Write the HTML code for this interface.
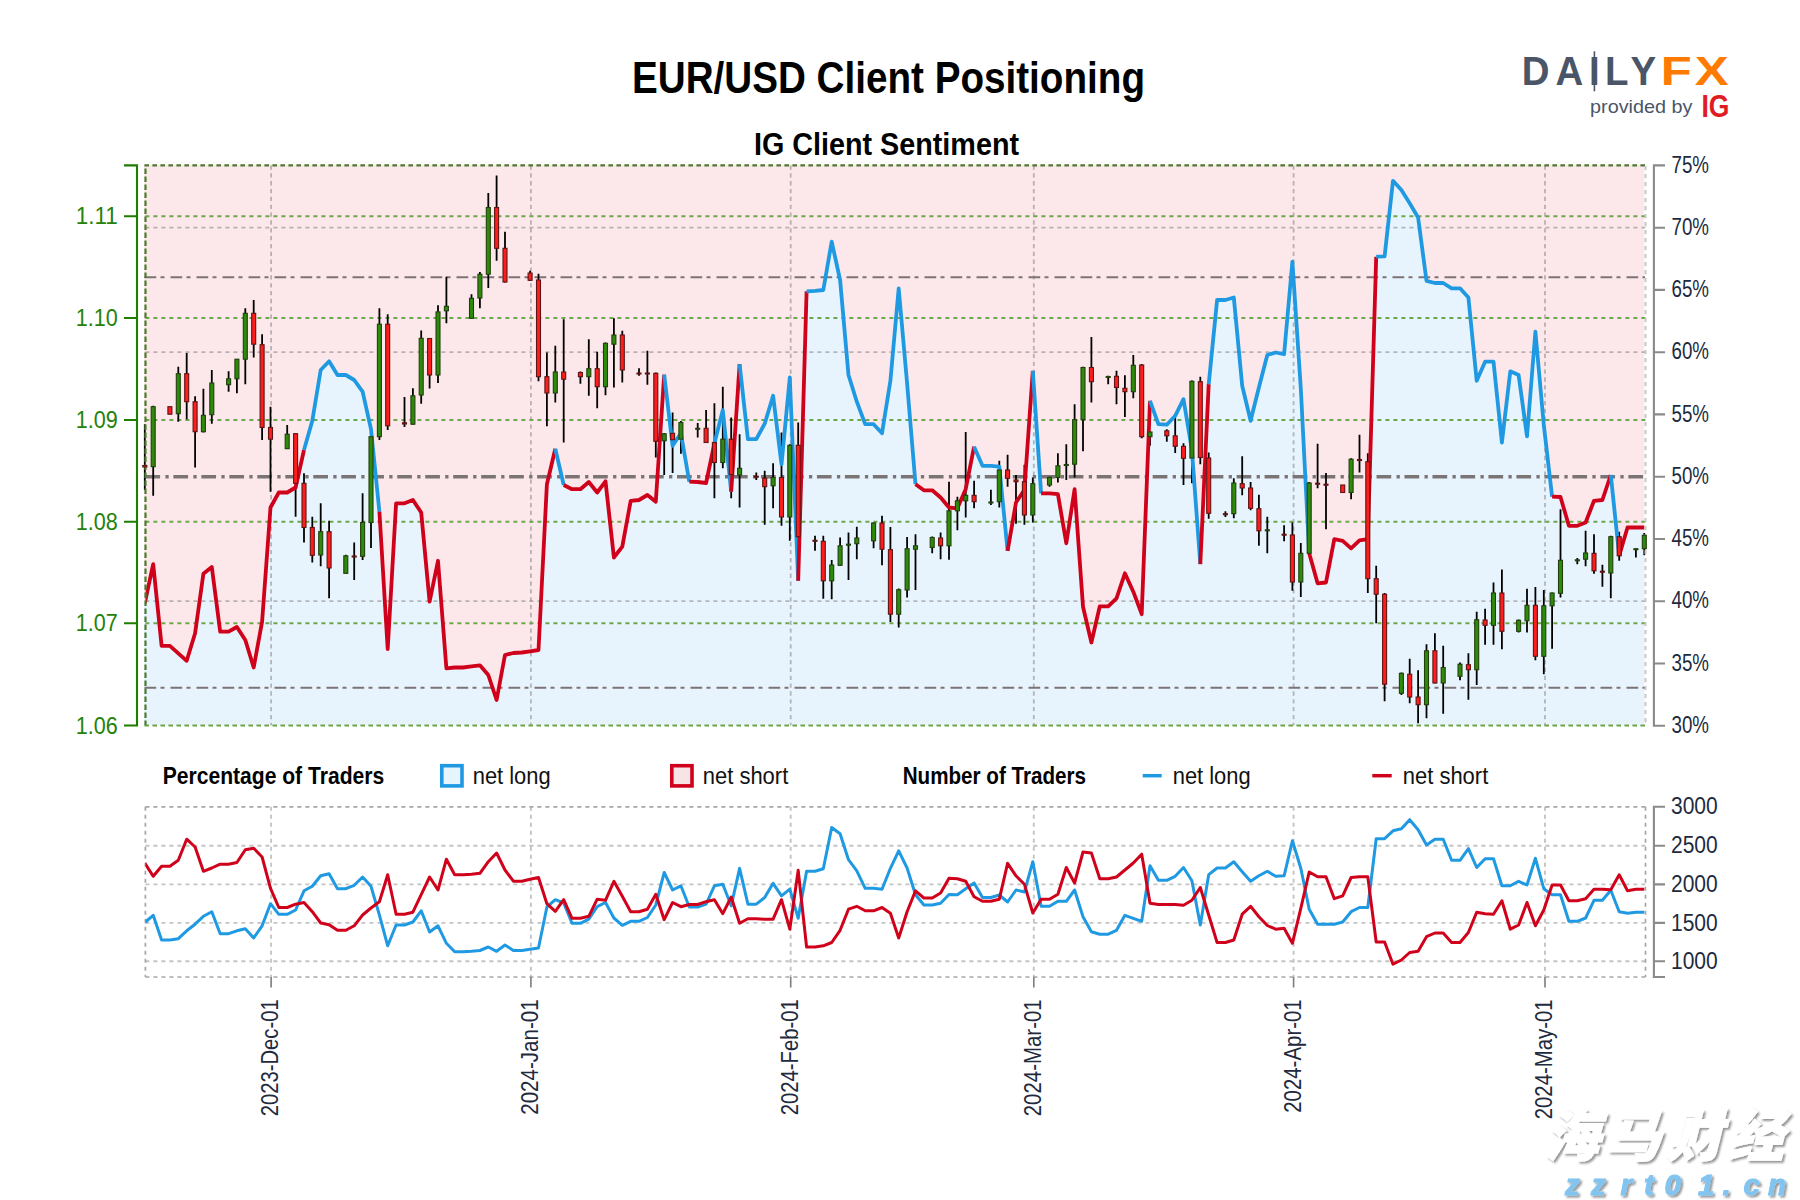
<!DOCTYPE html><html><head><meta charset="utf-8"><title>EUR/USD Client Positioning</title>
<style>html,body{margin:0;padding:0;background:#fff;width:1800px;height:1200px;overflow:hidden;}svg{display:block;}text{font-family:"Liberation Sans","Noto Sans CJK SC",sans-serif;}.ax{font-size:23px;fill:#1e2a3e;}.gx{font-size:23px;fill:#258208;}.lg{font-size:23px;fill:#111;}.lgb{font-size:23px;font-weight:bold;fill:#000;}</style></head><body>
<svg width="1800" height="1200" viewBox="0 0 1800 1200">
<rect width="1800" height="1200" fill="#fff"/>
<defs><clipPath id="cp"><rect x="145.4" y="165.4" width="1500.1" height="560.1"/></clipPath></defs>
<rect x="144" y="164.3" width="1500.2" height="560.1" fill="#fce8ea"/>
<polygon fill="#e8f4fd" points="144,724.4 144,603.3 144.8,603.3 153.2,564.2 161.6,645.8 169.9,645.8 178.3,653.3 186.7,660.8 195.1,633.3 203.4,573.7 211.8,567 220.2,631.7 228.6,631.7 236.9,627 245.3,640 253.7,667.5 262.1,621.7 270.5,507.5 278.8,492.5 287.2,492.5 295.6,487.5 304,450 312.3,420.8 320.7,370 329.1,361.3 337.5,375 345.8,375 354.2,380 362.6,391.7 371,429.2 379.4,511.7 387.7,649.2 396.1,503.3 404.5,503.3 412.9,500 421.2,512.5 429.6,601.7 438,560.8 446.4,668.3 454.7,667.5 463.1,667.5 471.5,666.3 479.9,665.3 488.3,675 496.6,700 505,655 513.4,653 521.8,652.5 530.1,651.3 538.5,650 546.9,484.2 555.3,448.7 563.7,485 572,489.2 580.4,489.2 588.8,482 597.2,492.5 605.5,481.3 613.9,557.5 622.3,546.7 630.7,500.8 639,500 647.4,495 655.8,501.7 664.2,374.7 672.6,445.8 680.9,433.3 689.3,481.7 697.7,482 706.1,483 714.4,443.3 722.8,410.3 731.2,491.7 739.6,364.2 747.9,439.2 756.3,439.2 764.7,423.7 773.1,395.8 781.5,464.2 789.8,377.5 798.2,580.8 806.6,291.3 815,290.8 823.3,290 831.7,241.7 840.1,280 848.5,375 856.8,401.7 865.2,424.2 873.6,424.2 882,433.3 890.4,380.8 898.7,288.3 907.1,383.3 915.5,484.2 923.9,490.3 932.2,490.3 940.6,497.5 949,507.5 957.4,508.3 965.7,489.2 974.1,446.7 982.5,465.8 990.9,465.8 999.3,466.7 1007.6,550.8 1016,502.5 1024.4,490 1032.8,370.8 1041.1,493.3 1049.5,493.3 1057.9,494.2 1066.3,543.3 1074.6,489.2 1083,606.7 1091.4,642.5 1099.8,606.3 1108.2,606.3 1116.5,598.3 1124.9,573.3 1133.3,591.7 1141.7,614.2 1150,400.8 1158.4,424.2 1166.8,424.7 1175.2,415.8 1183.5,399.2 1191.9,450 1200.3,564.2 1208.7,384.2 1217.1,300 1225.4,300 1233.8,297.5 1242.2,385.8 1250.6,420.8 1258.9,387.5 1267.3,355 1275.7,352.5 1284.1,354.2 1292.4,261.7 1300.8,388.3 1309.2,553.3 1317.6,583.3 1326,582.5 1334.3,539.2 1342.7,540.8 1351.1,548.3 1359.5,540.3 1367.8,539.2 1376.2,256.7 1384.6,256.3 1393,180.8 1401.4,190 1409.7,203.3 1418.1,217.5 1426.5,280.8 1434.9,283 1443.2,283 1451.6,288.3 1460,288.3 1468.4,297.5 1476.7,380.8 1485.1,361.7 1493.5,361.7 1501.9,442.5 1510.3,371.3 1518.6,375 1527,436.3 1535.4,331.7 1543.8,425 1552.1,496.7 1560.5,497 1568.9,525.8 1577.3,525.8 1585.6,522.5 1594,500.8 1602.4,500 1610.8,475 1619.2,555.8 1627.5,527.5 1635.9,527.5 1644.3,527.5 1644.2,527.5 1644.2,724.4"/>
<path d="M145.4 227.7H1645.5M145.4 352.2H1645.5M145.4 601.2H1645.5" stroke="#7c7c7c" stroke-opacity="0.52" stroke-width="1.7" stroke-dasharray="4,4" fill="none"/>
<path d="M271.1 165.4V725.5M530.9 165.4V725.5M790.7 165.4V725.5M1033.8 165.4V725.5M1293.6 165.4V725.5M1545 165.4V725.5" stroke="#7c7c7c" stroke-opacity="0.52" stroke-width="1.8" stroke-dasharray="4.3,3.55" fill="none"/>
<path d="M145.4 216.2H1645.5M145.4 318H1645.5M145.4 420H1645.5M145.4 521.7H1645.5M145.4 623.3H1645.5" stroke="#6ca74c" stroke-width="1.9" stroke-dasharray="4,4" fill="none"/>
<path d="M144.5 277.3H1645 M144.5 687.8H1645" stroke="#7d7376" stroke-width="2" stroke-dasharray="11.7,4.3,4,6" fill="none"/>
<path d="M145.4 476.7H1645" stroke="#7a7475" stroke-width="3.6" stroke-dasharray="14.7,5.3,3.3,4.68" fill="none"/>
<path d="M144.8 424.2V490M153.2 405.8V495.8M169.9 406.7V414.2M178.3 366.7V421.7M186.7 353V419.2M195.1 396.3V467.5M203.4 388.7V432.5M211.8 370V423.7M228.6 371.3V391.7M236.9 359.2V393.3M245.3 308.3V384.2M253.7 300V357.5M262.1 334.2V440M270.5 406.7V491.7M287.2 425V449M295.6 433V516.7M304 473.3V542.5M312.3 516.7V562.5M320.7 503.3V566.3M329.1 520.8V598.3M345.8 554.7V573.7M354.2 542.5V580M362.6 493.3V560M371 436V548M379.4 308.3V440M387.7 314.2V430M404.5 397V427M412.9 388.3V424.7M421.2 330.5V403.7M429.6 338V388.5M438 305.3V383M446.4 276.7V323.3M471.5 294.2V318.5M479.9 272V308.3M488.3 193V288M496.6 175.5V260.8M505 231.7V282.5M530.1 270.8V281M538.5 273.7V381.3M546.9 352.5V426.3M555.3 345.8V402.5M563.7 319.2V442.5M580.4 371.5V383.7M588.8 339.2V395.8M597.2 351.7V408.3M605.5 342.5V395.3M613.9 318.3V387.5M622.3 330.8V382.5M639 368.3V375.8M647.4 350.8V384.7M655.8 372.5V457.5M664.2 433V475M672.6 412.5V473M680.9 421V453.7M697.7 423V437.5M706.1 410V443M714.4 403.3V498.3M722.8 386.7V468.3M731.2 417.5V498.3M739.6 434.2V507.5M756.3 472.5V480M764.7 470.8V524.7M773.1 463.3V508.3M781.5 432.5V525.8M789.8 444.2V540.8M798.2 422.5V537M815 535.8V550.8M823.3 535.8V598.7M831.7 560V599.2M840.1 537.5V566M848.5 532.5V580M856.8 526.7V559.2M873.6 522.5V548.3M882 515.8V565.3M890.4 527V622M898.7 588.5V627.5M907.1 537V597.5M915.5 534.2V590M932.2 536.5V553.3M940.6 532.5V559.2M949 481.7V559.7M957.4 496.7V530.3M965.7 432V517.5M974.1 480.8V508.3M990.9 489.7V505M999.3 460.8V507.5M1007.6 454.7V486.7M1016 475V523.7M1024.4 464.7V524.7M1032.8 477.5V522.5M1049.5 476.7V486.7M1057.9 453.3V482.5M1066.3 444.2V480M1074.6 404.2V477.5M1083 366.7V451.3M1091.4 337V402.5M1108.2 375.8V384.2M1116.5 370.8V404.2M1124.9 375.3V417M1133.3 355V398.3M1141.7 364V438.3M1150 431.7V445.8M1166.8 429.2V441.7M1175.2 414.2V453M1183.5 443.3V485M1191.9 380.5V483.3M1200.3 376.7V464.2M1208.7 452.5V518.7M1225.4 511.3V517M1233.8 478.3V518.3M1242.2 456.3V495.3M1250.6 482V510.3M1258.9 494.7V545.8M1267.3 516.7V553.3M1284.1 525.3V541.3M1292.4 522.5V590.8M1300.8 543V597M1309.2 482V554M1317.6 443.7V488.3M1326 473V529.2M1342.7 485V492.5M1351.1 458.3V499.2M1359.5 434.7V472.5M1367.8 453.3V593M1376.2 565.8V623.3M1384.6 593V701.3M1401.4 672.5V695M1409.7 658.7V703.3M1418.1 670.3V723.3M1426.5 644.2V718.3M1434.9 633.3V683.5M1443.2 645.8V713.7M1460 662.5V680.3M1468.4 653.3V699.7M1476.7 611.7V685M1485.1 608.7V644.7M1493.5 582.5V644.7M1501.9 569.5V649.2M1518.6 619.5V632.5M1527 588.7V632.5M1535.4 587V660.3M1543.8 590V674.2M1552.1 592.5V648.7M1560.5 509.2V597.5M1577.3 558V564.2M1585.6 530.8V566.3M1594 534.2V573.7M1602.4 564.7V586.7M1610.8 535.8V598.3M1619.2 531.7V560.8M1635.9 548.7V557.5M1644.3 533V555.3" stroke="#000" stroke-width="1.8" fill="none"/>
<polyline clip-path="url(#cp)" fill="none" stroke="#d0021b" stroke-width="3.8" stroke-linejoin="round" points="144.8,603.3 153.2,564.2 161.6,645.8 169.9,645.8 178.3,653.3 186.7,660.8 195.1,633.3 203.4,573.7 211.8,567 220.2,631.7 228.6,631.7 236.9,627 245.3,640 253.7,667.5 262.1,621.7 270.5,507.5 278.8,492.5 287.2,492.5 295.6,487.5 304,450"/>
<polyline clip-path="url(#cp)" fill="none" stroke="#1f9ae2" stroke-width="3.8" stroke-linejoin="round" points="304,450 312.3,420.8 320.7,370 329.1,361.3 337.5,375 345.8,375 354.2,380 362.6,391.7 371,429.2 379.4,511.7"/>
<polyline clip-path="url(#cp)" fill="none" stroke="#d0021b" stroke-width="3.8" stroke-linejoin="round" points="379.4,511.7 387.7,649.2 396.1,503.3 404.5,503.3 412.9,500 421.2,512.5 429.6,601.7 438,560.8 446.4,668.3 454.7,667.5 463.1,667.5 471.5,666.3 479.9,665.3 488.3,675 496.6,700 505,655 513.4,653 521.8,652.5 530.1,651.3 538.5,650 546.9,484.2 555.3,448.7"/>
<polyline clip-path="url(#cp)" fill="none" stroke="#1f9ae2" stroke-width="3.8" stroke-linejoin="round" points="555.3,448.7 563.7,485"/>
<polyline clip-path="url(#cp)" fill="none" stroke="#d0021b" stroke-width="3.8" stroke-linejoin="round" points="563.7,485 572,489.2 580.4,489.2 588.8,482 597.2,492.5 605.5,481.3 613.9,557.5 622.3,546.7 630.7,500.8 639,500 647.4,495 655.8,501.7 664.2,374.7"/>
<polyline clip-path="url(#cp)" fill="none" stroke="#1f9ae2" stroke-width="3.8" stroke-linejoin="round" points="664.2,374.7 672.6,445.8 680.9,433.3 689.3,481.7"/>
<polyline clip-path="url(#cp)" fill="none" stroke="#d0021b" stroke-width="3.8" stroke-linejoin="round" points="689.3,481.7 697.7,482 706.1,483 714.4,443.3"/>
<polyline clip-path="url(#cp)" fill="none" stroke="#1f9ae2" stroke-width="3.8" stroke-linejoin="round" points="714.4,443.3 722.8,410.3 731.2,491.7"/>
<polyline clip-path="url(#cp)" fill="none" stroke="#d0021b" stroke-width="3.8" stroke-linejoin="round" points="731.2,491.7 739.6,364.2"/>
<polyline clip-path="url(#cp)" fill="none" stroke="#1f9ae2" stroke-width="3.8" stroke-linejoin="round" points="739.6,364.2 747.9,439.2 756.3,439.2 764.7,423.7 773.1,395.8 781.5,464.2 789.8,377.5 798.2,580.8"/>
<polyline clip-path="url(#cp)" fill="none" stroke="#d0021b" stroke-width="3.8" stroke-linejoin="round" points="798.2,580.8 806.6,291.3"/>
<polyline clip-path="url(#cp)" fill="none" stroke="#1f9ae2" stroke-width="3.8" stroke-linejoin="round" points="806.6,291.3 815,290.8 823.3,290 831.7,241.7 840.1,280 848.5,375 856.8,401.7 865.2,424.2 873.6,424.2 882,433.3 890.4,380.8 898.7,288.3 907.1,383.3 915.5,484.2"/>
<polyline clip-path="url(#cp)" fill="none" stroke="#d0021b" stroke-width="3.8" stroke-linejoin="round" points="915.5,484.2 923.9,490.3 932.2,490.3 940.6,497.5 949,507.5 957.4,508.3 965.7,489.2 974.1,446.7"/>
<polyline clip-path="url(#cp)" fill="none" stroke="#1f9ae2" stroke-width="3.8" stroke-linejoin="round" points="974.1,446.7 982.5,465.8 990.9,465.8 999.3,466.7 1007.6,550.8"/>
<polyline clip-path="url(#cp)" fill="none" stroke="#d0021b" stroke-width="3.8" stroke-linejoin="round" points="1007.6,550.8 1016,502.5 1024.4,490 1032.8,370.8"/>
<polyline clip-path="url(#cp)" fill="none" stroke="#1f9ae2" stroke-width="3.8" stroke-linejoin="round" points="1032.8,370.8 1041.1,493.3"/>
<polyline clip-path="url(#cp)" fill="none" stroke="#d0021b" stroke-width="3.8" stroke-linejoin="round" points="1041.1,493.3 1049.5,493.3 1057.9,494.2 1066.3,543.3 1074.6,489.2 1083,606.7 1091.4,642.5 1099.8,606.3 1108.2,606.3 1116.5,598.3 1124.9,573.3 1133.3,591.7 1141.7,614.2 1150,400.8"/>
<polyline clip-path="url(#cp)" fill="none" stroke="#1f9ae2" stroke-width="3.8" stroke-linejoin="round" points="1150,400.8 1158.4,424.2 1166.8,424.7 1175.2,415.8 1183.5,399.2 1191.9,450 1200.3,564.2"/>
<polyline clip-path="url(#cp)" fill="none" stroke="#d0021b" stroke-width="3.8" stroke-linejoin="round" points="1200.3,564.2 1208.7,384.2"/>
<polyline clip-path="url(#cp)" fill="none" stroke="#1f9ae2" stroke-width="3.8" stroke-linejoin="round" points="1208.7,384.2 1217.1,300 1225.4,300 1233.8,297.5 1242.2,385.8 1250.6,420.8 1258.9,387.5 1267.3,355 1275.7,352.5 1284.1,354.2 1292.4,261.7 1300.8,388.3 1309.2,553.3"/>
<polyline clip-path="url(#cp)" fill="none" stroke="#d0021b" stroke-width="3.8" stroke-linejoin="round" points="1309.2,553.3 1317.6,583.3 1326,582.5 1334.3,539.2 1342.7,540.8 1351.1,548.3 1359.5,540.3 1367.8,539.2 1376.2,256.7"/>
<polyline clip-path="url(#cp)" fill="none" stroke="#1f9ae2" stroke-width="3.8" stroke-linejoin="round" points="1376.2,256.7 1384.6,256.3 1393,180.8 1401.4,190 1409.7,203.3 1418.1,217.5 1426.5,280.8 1434.9,283 1443.2,283 1451.6,288.3 1460,288.3 1468.4,297.5 1476.7,380.8 1485.1,361.7 1493.5,361.7 1501.9,442.5 1510.3,371.3 1518.6,375 1527,436.3 1535.4,331.7 1543.8,425 1552.1,496.7"/>
<polyline clip-path="url(#cp)" fill="none" stroke="#d0021b" stroke-width="3.8" stroke-linejoin="round" points="1552.1,496.7 1560.5,497 1568.9,525.8 1577.3,525.8 1585.6,522.5 1594,500.8 1602.4,500 1610.8,475"/>
<polyline clip-path="url(#cp)" fill="none" stroke="#1f9ae2" stroke-width="3.8" stroke-linejoin="round" points="1610.8,475 1619.2,555.8"/>
<polyline clip-path="url(#cp)" fill="none" stroke="#d0021b" stroke-width="3.8" stroke-linejoin="round" points="1619.2,555.8 1627.5,527.5 1635.9,527.5 1644.3,527.5"/>
<path d="M144.4 165.4H1645.5" stroke="#4d7a33" stroke-width="2.3" stroke-dasharray="4.6,3.4" fill="none"/>
<path d="M144.4 725.5H1645.5" stroke="#66a648" stroke-width="2.1" stroke-dasharray="4.6,3.4" fill="none"/>
<path d="M145.5 168.6V725" stroke="#4d7a33" stroke-width="2.2" stroke-dasharray="5.4,2.6" fill="none"/>
<path d="M1645.5 166V725" stroke="#c6c6c6" stroke-width="2" stroke-dasharray="4.3,3.7" fill="none"/>
<g fill="#2e8a0a" stroke="#22400e" stroke-width="1.1"><rect x="151.2" y="406.7" width="4" height="60"/><rect x="176.3" y="373.7" width="4" height="40"/><rect x="201.4" y="415.3" width="4" height="16.4"/><rect x="209.8" y="383" width="4" height="31.7"/><rect x="226.6" y="378.8" width="4" height="5.9"/><rect x="234.9" y="359.2" width="4" height="19.6"/><rect x="243.3" y="313.3" width="4" height="45.9"/><rect x="285.2" y="434.2" width="4" height="14.5"/><rect x="318.7" y="531.7" width="4" height="23.3"/><rect x="343.8" y="555.8" width="4" height="17.5"/><rect x="360.6" y="522.5" width="4" height="33.8"/><rect x="369" y="436.7" width="4" height="85.8"/><rect x="377.4" y="324.2" width="4" height="112.5"/><rect x="410.9" y="395.8" width="4" height="28.4"/><rect x="419.2" y="338.3" width="4" height="56.7"/><rect x="436" y="311.9" width="4" height="63.1"/><rect x="444.4" y="306.3" width="4" height="4.5"/><rect x="469.5" y="298.3" width="4" height="20"/><rect x="477.9" y="274.2" width="4" height="23.8"/><rect x="486.3" y="207.5" width="4" height="66.7"/><rect x="553.3" y="372" width="4" height="21"/><rect x="586.8" y="368.7" width="4" height="8"/><rect x="603.5" y="343.3" width="4" height="43.4"/><rect x="611.9" y="335" width="4" height="9.2"/><rect x="662.2" y="433.8" width="4" height="7"/><rect x="678.9" y="422.5" width="4" height="16.7"/><rect x="695.7" y="428.3" width="4" height="1"/><rect x="720.8" y="439.2" width="4" height="23.3"/><rect x="737.6" y="468.3" width="4" height="6.7"/><rect x="771.1" y="477.5" width="4" height="8.3"/><rect x="787.8" y="445.3" width="4" height="71.7"/><rect x="829.7" y="565" width="4" height="15.8"/><rect x="838.1" y="545.8" width="4" height="19.5"/><rect x="846.5" y="544.2" width="4" height="1"/><rect x="854.8" y="538" width="4" height="5.7"/><rect x="871.6" y="523" width="4" height="17.8"/><rect x="896.7" y="589.7" width="4" height="24.5"/><rect x="905.1" y="548.7" width="4" height="41.3"/><rect x="913.5" y="545.8" width="4" height="3.4"/><rect x="930.2" y="537.5" width="4" height="10"/><rect x="947" y="510.8" width="4" height="35"/><rect x="955.4" y="500.8" width="4" height="10"/><rect x="963.7" y="495.3" width="4" height="5.5"/><rect x="988.9" y="502" width="4" height="1"/><rect x="997.3" y="470" width="4" height="31.7"/><rect x="1030.8" y="483.7" width="4" height="31.3"/><rect x="1047.5" y="477.5" width="4" height="7.5"/><rect x="1055.9" y="465.8" width="4" height="11.7"/><rect x="1064.3" y="464.5" width="4" height="1"/><rect x="1072.6" y="419.7" width="4" height="44.5"/><rect x="1081" y="367.5" width="4" height="52.2"/><rect x="1106.2" y="376.5" width="4" height="1"/><rect x="1131.3" y="365.3" width="4" height="26.4"/><rect x="1148" y="432" width="4" height="4.7"/><rect x="1189.9" y="381.3" width="4" height="76.7"/><rect x="1231.8" y="483" width="4" height="30.7"/><rect x="1265.3" y="529.8" width="4" height="1"/><rect x="1298.8" y="553.3" width="4" height="28.7"/><rect x="1307.2" y="483" width="4" height="70.3"/><rect x="1349.1" y="459.2" width="4" height="33.3"/><rect x="1399.4" y="673.3" width="4" height="20"/><rect x="1424.5" y="650.8" width="4" height="53.9"/><rect x="1441.2" y="667.5" width="4" height="15.5"/><rect x="1458" y="664.2" width="4" height="12.1"/><rect x="1474.7" y="619.7" width="4" height="50"/><rect x="1491.5" y="593" width="4" height="32.3"/><rect x="1516.6" y="620.3" width="4" height="11"/><rect x="1525" y="605.3" width="4" height="15.5"/><rect x="1541.8" y="605.8" width="4" height="50.5"/><rect x="1550.1" y="593" width="4" height="12.8"/><rect x="1558.5" y="560.3" width="4" height="33"/><rect x="1575.3" y="559.8" width="4" height="1"/><rect x="1583.6" y="553" width="4" height="6.2"/><rect x="1608.8" y="536.7" width="4" height="36.3"/><rect x="1633.9" y="548.7" width="4" height="1"/><rect x="1642.3" y="535.3" width="4" height="13.4"/></g>
<g fill="#ff1c1c" stroke="#5e1414" stroke-width="1.1"><rect x="142.8" y="465.5" width="4" height="1.5"/><rect x="167.9" y="406.7" width="4" height="7.5"/><rect x="184.7" y="373.7" width="4" height="28"/><rect x="193.1" y="401.7" width="4" height="30"/><rect x="251.7" y="313.3" width="4" height="30.9"/><rect x="260.1" y="344.7" width="4" height="82.8"/><rect x="268.5" y="427.5" width="4" height="11.7"/><rect x="293.6" y="433.7" width="4" height="49.6"/><rect x="302" y="483.3" width="4" height="44.2"/><rect x="310.3" y="527.5" width="4" height="27.8"/><rect x="327.1" y="531.7" width="4" height="36.3"/><rect x="352.2" y="556" width="4" height="1"/><rect x="385.7" y="324.2" width="4" height="101.6"/><rect x="402.5" y="422.8" width="4" height="1.2"/><rect x="427.6" y="338.5" width="4" height="36.5"/><rect x="494.6" y="207.5" width="4" height="40.8"/><rect x="503" y="248.3" width="4" height="33.7"/><rect x="528.1" y="273" width="4" height="7.3"/><rect x="536.5" y="280" width="4" height="96.7"/><rect x="544.9" y="376.7" width="4" height="16.3"/><rect x="561.7" y="372" width="4" height="7.2"/><rect x="578.4" y="372.5" width="4" height="4.2"/><rect x="595.2" y="368.7" width="4" height="18"/><rect x="620.3" y="335" width="4" height="35"/><rect x="637" y="373" width="4" height="1"/><rect x="645.4" y="373" width="4" height="1"/><rect x="653.8" y="373.3" width="4" height="68"/><rect x="670.6" y="433.3" width="4" height="6.4"/><rect x="704.1" y="428.3" width="4" height="14.2"/><rect x="712.4" y="442.5" width="4" height="20"/><rect x="729.2" y="439.2" width="4" height="35.5"/><rect x="754.3" y="476.2" width="4" height="1"/><rect x="762.7" y="478.3" width="4" height="8.4"/><rect x="779.5" y="477.5" width="4" height="39.5"/><rect x="796.2" y="445.3" width="4" height="91.4"/><rect x="813" y="540.3" width="4" height="1"/><rect x="821.3" y="541.3" width="4" height="39.5"/><rect x="880" y="523" width="4" height="26.2"/><rect x="888.4" y="549.7" width="4" height="64.5"/><rect x="938.6" y="538" width="4" height="7.8"/><rect x="972.1" y="495.3" width="4" height="6.4"/><rect x="1005.6" y="470" width="4" height="8.3"/><rect x="1014" y="480" width="4" height="1.7"/><rect x="1022.4" y="481.7" width="4" height="33.3"/><rect x="1089.4" y="367.5" width="4" height="14.2"/><rect x="1114.5" y="376.3" width="4" height="11.2"/><rect x="1122.9" y="388.3" width="4" height="3.4"/><rect x="1139.7" y="365" width="4" height="71.7"/><rect x="1164.8" y="430.8" width="4" height="5"/><rect x="1173.2" y="435.8" width="4" height="10.5"/><rect x="1181.5" y="446.3" width="4" height="12"/><rect x="1198.3" y="381.7" width="4" height="75.8"/><rect x="1206.7" y="458" width="4" height="55.3"/><rect x="1223.4" y="513.7" width="4" height="1"/><rect x="1240.2" y="483.7" width="4" height="4.3"/><rect x="1248.6" y="488" width="4" height="20.3"/><rect x="1256.9" y="508.7" width="4" height="22.1"/><rect x="1282.1" y="534.2" width="4" height="1"/><rect x="1290.4" y="535" width="4" height="47"/><rect x="1315.6" y="483.2" width="4" height="1"/><rect x="1324" y="484.2" width="4" height="1"/><rect x="1340.7" y="485" width="4" height="7.5"/><rect x="1357.5" y="459.5" width="4" height="1"/><rect x="1365.8" y="461.7" width="4" height="117"/><rect x="1374.2" y="578.7" width="4" height="15.5"/><rect x="1382.6" y="594.2" width="4" height="90"/><rect x="1407.7" y="674.2" width="4" height="22.8"/><rect x="1416.1" y="697" width="4" height="7.7"/><rect x="1432.9" y="650.8" width="4" height="32.2"/><rect x="1466.4" y="664.7" width="4" height="5"/><rect x="1483.1" y="620" width="4" height="5.3"/><rect x="1499.9" y="593" width="4" height="38.3"/><rect x="1533.4" y="605.3" width="4" height="51"/><rect x="1592" y="553.3" width="4" height="17.5"/><rect x="1600.4" y="571.2" width="4" height="1"/><rect x="1617.2" y="536.7" width="4" height="19.1"/></g>
<path d="M124 165.4H137V725.5H124M124 216.2H137M124 318H137M124 420H137M124 521.7H137M124 623.3H137" stroke="#1f7d00" stroke-width="2.1" fill="none"/>
<text class="gx" x="75.8" y="224.2" textLength="42" lengthAdjust="spacingAndGlyphs">1.11</text>
<text class="gx" x="75.8" y="326" textLength="42" lengthAdjust="spacingAndGlyphs">1.10</text>
<text class="gx" x="75.8" y="428" textLength="42" lengthAdjust="spacingAndGlyphs">1.09</text>
<text class="gx" x="75.8" y="529.7" textLength="42" lengthAdjust="spacingAndGlyphs">1.08</text>
<text class="gx" x="75.8" y="631.3" textLength="42" lengthAdjust="spacingAndGlyphs">1.07</text>
<text class="gx" x="75.8" y="733.5" textLength="42" lengthAdjust="spacingAndGlyphs">1.06</text>
<path d="M1665 165.4H1653.9V725.7H1665M1653.9 663.5H1665M1653.9 601.2H1665M1653.9 539H1665M1653.9 476.7H1665M1653.9 414.4H1665M1653.9 352.2H1665M1653.9 289.9H1665M1653.9 227.7H1665" stroke="#8a8a8a" stroke-width="2.1" fill="none"/>
<text class="ax" x="1671.5" y="732.9" textLength="37.5" lengthAdjust="spacingAndGlyphs">30%</text>
<text class="ax" x="1671.5" y="670.7" textLength="37.5" lengthAdjust="spacingAndGlyphs">35%</text>
<text class="ax" x="1671.5" y="608.4" textLength="37.5" lengthAdjust="spacingAndGlyphs">40%</text>
<text class="ax" x="1671.5" y="546.2" textLength="37.5" lengthAdjust="spacingAndGlyphs">45%</text>
<text class="ax" x="1671.5" y="483.9" textLength="37.5" lengthAdjust="spacingAndGlyphs">50%</text>
<text class="ax" x="1671.5" y="421.6" textLength="37.5" lengthAdjust="spacingAndGlyphs">55%</text>
<text class="ax" x="1671.5" y="359.4" textLength="37.5" lengthAdjust="spacingAndGlyphs">60%</text>
<text class="ax" x="1671.5" y="297.1" textLength="37.5" lengthAdjust="spacingAndGlyphs">65%</text>
<text class="ax" x="1671.5" y="234.9" textLength="37.5" lengthAdjust="spacingAndGlyphs">70%</text>
<text class="ax" x="1671.5" y="172.6" textLength="37.5" lengthAdjust="spacingAndGlyphs">75%</text>
<text class="lgb" x="162.7" y="784" textLength="221.5" lengthAdjust="spacingAndGlyphs">Percentage of Traders</text>
<rect x="441.8" y="765.7" width="20.2" height="20.2" fill="#e8f4fd" stroke="#1f9ae2" stroke-width="3.6"/>
<text class="lg" x="472.7" y="784" textLength="78" lengthAdjust="spacingAndGlyphs">net long</text>
<rect x="671.8" y="765.7" width="20.2" height="20.2" fill="#f6e4e6" stroke="#d0021b" stroke-width="3.6"/>
<text class="lg" x="702.7" y="784" textLength="85.6" lengthAdjust="spacingAndGlyphs">net short</text>
<text class="lgb" x="902.7" y="784" textLength="183.3" lengthAdjust="spacingAndGlyphs">Number of Traders</text>
<path d="M1142.7 775.7H1161.7" stroke="#1f9ae2" stroke-width="3.5"/>
<text class="lg" x="1172.7" y="784" textLength="78" lengthAdjust="spacingAndGlyphs">net long</text>
<path d="M1372.3 775.7H1391.7" stroke="#d0021b" stroke-width="3.5"/>
<text class="lg" x="1402.7" y="784" textLength="85.6" lengthAdjust="spacingAndGlyphs">net short</text>
<defs><clipPath id="cp2"><rect x="145.4" y="806.8" width="1500.1" height="170.2"/></clipPath></defs>
<path d="M145.4 845.8H1645.5M145.4 884.4H1645.5M145.4 922.9H1645.5M145.4 961.3H1645.5M271.1 806.8V977M530.9 806.8V977M790.7 806.8V977M1033.8 806.8V977M1293.6 806.8V977M1545 806.8V977" stroke="#c4c4c4" stroke-width="1.9" stroke-dasharray="4,4" fill="none"/>
<path d="M145.4 806.8H1645.5 M145.4 977H1645.5 M145.4 806.8V977 M1645.5 806.8V977" stroke="#a6a6a6" stroke-width="1.7" stroke-dasharray="4,4" fill="none"/>
<polyline clip-path="url(#cp2)" fill="none" stroke="#1f9ae2" stroke-width="3.0" stroke-linejoin="round" points="144.8,922.5 153.2,915.3 161.6,940 169.9,940 178.3,938.7 186.7,930.8 195.1,924.2 203.4,916.3 211.8,911.7 220.2,933.7 228.6,933.7 236.9,930.8 245.3,928.7 253.7,938 262.1,925.8 270.5,903.7 278.8,914.3 287.2,914.3 295.6,910 304,890.8 312.3,886.3 320.7,875.8 329.1,873.8 337.5,888.7 345.8,888.7 354.2,885.3 362.6,877 371,886.3 379.4,915 387.7,945.8 396.1,925 404.5,925 412.9,922 421.2,910.8 429.6,932 438,925.8 446.4,943.3 454.7,951.7 463.1,951.7 471.5,951.2 479.9,950.5 488.3,947 496.6,951.3 505,945 513.4,950.5 521.8,950.5 530.1,949.2 538.5,948 546.9,907 555.3,899.7 563.7,903 572,923.3 580.4,923.3 588.8,919.2 597.2,906.7 605.5,902.5 613.9,918 622.3,925.3 630.7,921.3 639,921.3 647.4,917.5 655.8,905 664.2,872.5 672.6,890 680.9,885.8 689.3,907 697.7,907 706.1,904.2 714.4,885.8 722.8,884.2 731.2,905.8 739.6,868.3 747.9,904.2 756.3,904.2 764.7,897.5 773.1,883.3 781.5,895.8 789.8,889.2 798.2,918.3 806.6,871.3 815,871.3 823.3,868.7 831.7,827.5 840.1,833.7 848.5,859.7 856.8,870.8 865.2,888.3 873.6,888.3 882,889.2 890.4,868.3 898.7,850.8 907.1,868 915.5,894.7 923.9,905 932.2,905 940.6,903.3 949,894.5 957.4,894.7 965.7,888.7 974.1,883 982.5,897.5 990.9,897.5 999.3,895 1007.6,902 1016,890 1024.4,892 1032.8,861.7 1041.1,906.3 1049.5,906.3 1057.9,901.3 1066.3,901.3 1074.6,890 1083,916.7 1091.4,931.7 1099.8,934.2 1108.2,934.2 1116.5,930.3 1124.9,915.3 1133.3,918.3 1141.7,921.3 1150,865.8 1158.4,880.3 1166.8,880.3 1175.2,876.3 1183.5,867.5 1191.9,880.8 1200.3,925 1208.7,874.7 1217.1,868 1225.4,868 1233.8,861.7 1242.2,871.7 1250.6,881.3 1258.9,875.8 1267.3,871.3 1275.7,876.3 1284.1,875.8 1292.4,840.8 1300.8,868.3 1309.2,909.2 1317.6,924.2 1326,924.2 1334.3,924.2 1342.7,922 1351.1,911.7 1359.5,907.5 1367.8,907.5 1376.2,838.7 1384.6,838.7 1393,830.8 1401.4,828.8 1409.7,819.7 1418.1,829.7 1426.5,845 1434.9,839.2 1443.2,839.2 1451.6,860.3 1460,860.3 1468.4,848.7 1476.7,867.5 1485.1,858.7 1493.5,858.7 1501.9,885.8 1510.3,885.8 1518.6,881.3 1527,885 1535.4,858.3 1543.8,888.7 1552.1,894.7 1560.5,894.7 1568.9,921.3 1577.3,921.3 1585.6,918 1594,900.3 1602.4,900.3 1610.8,890.3 1619.2,911.7 1627.5,913.3 1635.9,912.2 1644.3,912.2"/>
<polyline clip-path="url(#cp2)" fill="none" stroke="#d0021b" stroke-width="3.0" stroke-linejoin="round" points="144.8,863 153.2,876.3 161.6,866.3 169.9,866.3 178.3,860.3 186.7,839.2 195.1,847 203.4,871.3 211.8,868 220.2,864.2 228.6,864.2 236.9,862.5 245.3,849.7 253.7,848.3 262.1,857 270.5,888.3 278.8,907.5 287.2,907.5 295.6,904.2 304,902.5 312.3,911.7 320.7,923 329.1,924.7 337.5,930.3 345.8,930.3 354.2,925.8 362.6,915 371,908 379.4,901.7 387.7,874.7 396.1,914.2 404.5,914.2 412.9,912.2 421.2,894.7 429.6,877 438,890 446.4,859.2 454.7,874.7 463.1,874.7 471.5,874.2 479.9,873.3 488.3,861.7 496.6,853 505,870 513.4,881.2 521.8,881.2 530.1,879.2 538.5,877.5 546.9,903.7 555.3,911.3 563.7,899.7 572,918.3 580.4,918.3 588.8,916.3 597.2,899.2 605.5,900.3 613.9,881.3 622.3,896.3 630.7,911.7 639,911.7 647.4,909.2 655.8,894.2 664.2,919.7 672.6,902.5 680.9,906.7 689.3,904.5 697.7,904.5 706.1,901.7 714.4,899.7 722.8,913.7 731.2,897 739.6,923.3 747.9,918.7 756.3,918.7 764.7,919.2 773.1,919.2 781.5,899.7 789.8,929.2 798.2,870.3 806.6,947 815,947 823.3,945.8 831.7,942.5 840.1,930.3 848.5,909.2 856.8,906.3 865.2,910.8 873.6,910.8 882,907.5 890.4,913.3 898.7,938 907.1,911.7 915.5,890.8 923.9,898 932.2,898 940.6,893 949,878.3 957.4,878.7 965.7,881.2 974.1,896.7 982.5,901.3 990.9,901.3 999.3,899.2 1007.6,863.3 1016,875.8 1024.4,884.2 1032.8,913 1041.1,899.2 1049.5,899.2 1057.9,894.2 1066.3,867.5 1074.6,883 1083,852 1091.4,853 1099.8,878.8 1108.2,878.8 1116.5,877 1124.9,870 1133.3,863 1141.7,854.2 1150,903.3 1158.4,904.5 1166.8,904.5 1175.2,904.5 1183.5,905.3 1191.9,900.3 1200.3,887.5 1208.7,915 1217.1,942.5 1225.4,942.5 1233.8,940 1242.2,914.2 1250.6,906.3 1258.9,916.7 1267.3,925.5 1275.7,929.2 1284.1,928.3 1292.4,943.3 1300.8,908.3 1309.2,872 1317.6,876.7 1326,876.7 1334.3,898.7 1342.7,895.8 1351.1,877.5 1359.5,876.7 1367.8,876.7 1376.2,942 1384.6,942 1393,964.2 1401.4,960 1409.7,952.5 1418.1,951.3 1426.5,936.7 1434.9,933 1443.2,933 1451.6,942.5 1460,942.5 1468.4,932.5 1476.7,912.2 1485.1,913.7 1493.5,914.2 1501.9,900.8 1510.3,929.2 1518.6,925 1527,902.5 1535.4,925.8 1543.8,910 1552.1,885 1560.5,885 1568.9,900.8 1577.3,900.8 1585.6,898.7 1594,889.2 1602.4,889.2 1610.8,889.7 1619.2,874.7 1627.5,890.8 1635.9,889.2 1644.3,889.2"/>
<path d="M1665 806.8H1653.9V977H1665M1653.9 845.8H1665M1653.9 884.4H1665M1653.9 922.9H1665M1653.9 961.3H1665" stroke="#8a8a8a" stroke-width="2.1" fill="none"/>
<text class="ax" x="1671" y="814.4" textLength="46.7" lengthAdjust="spacingAndGlyphs">3000</text>
<text class="ax" x="1671" y="853.4" textLength="46.7" lengthAdjust="spacingAndGlyphs">2500</text>
<text class="ax" x="1671" y="892" textLength="46.7" lengthAdjust="spacingAndGlyphs">2000</text>
<text class="ax" x="1671" y="930.5" textLength="46.7" lengthAdjust="spacingAndGlyphs">1500</text>
<text class="ax" x="1671" y="968.9" textLength="46.7" lengthAdjust="spacingAndGlyphs">1000</text>
<path d="M271.1 977V987.5M530.9 977V987.5M790.7 977V987.5M1033.8 977V987.5M1293.6 977V987.5M1545 977V987.5" stroke="#7d7d7d" stroke-width="1.6" fill="none"/>
<text class="ax" transform="translate(278.3,999.3) rotate(-90)" text-anchor="end" textLength="117" lengthAdjust="spacingAndGlyphs">2023-Dec-01</text>
<text class="ax" transform="translate(538.1,999.3) rotate(-90)" text-anchor="end" textLength="115.5" lengthAdjust="spacingAndGlyphs">2024-Jan-01</text>
<text class="ax" transform="translate(797.9,999.3) rotate(-90)" text-anchor="end" textLength="116" lengthAdjust="spacingAndGlyphs">2024-Feb-01</text>
<text class="ax" transform="translate(1041,999.3) rotate(-90)" text-anchor="end" textLength="117" lengthAdjust="spacingAndGlyphs">2024-Mar-01</text>
<text class="ax" transform="translate(1300.8,999.3) rotate(-90)" text-anchor="end" textLength="113.5" lengthAdjust="spacingAndGlyphs">2024-Apr-01</text>
<text class="ax" transform="translate(1552.2,999.3) rotate(-90)" text-anchor="end" textLength="120" lengthAdjust="spacingAndGlyphs">2024-May-01</text>
<text x="888.5" y="92.7" text-anchor="middle" font-size="44" font-weight="bold" fill="#000" textLength="513" lengthAdjust="spacingAndGlyphs">EUR/USD Client Positioning</text>
<text x="886.5" y="155" text-anchor="middle" font-size="31" font-weight="bold" fill="#000" textLength="265" lengthAdjust="spacingAndGlyphs">IG Client Sentiment</text>
<g id="logo" font-weight="bold" font-size="40">
<text transform="scale(0.960,1)" x="1585.1 1620.2 1655.3 1671.8 1698.5" y="85.3" fill="#4b5568">DAILY</text>
<text transform="scale(1.270,1)" x="1307.6 1334.5" y="85.3" fill="#ff7a00">FX</text>
<rect x="1593.6" y="51.3" width="1.6" height="40" fill="#4b5568"/>
</g>
<text x="1590" y="112.5" font-size="19" fill="#4b5568" textLength="102.5" lengthAdjust="spacingAndGlyphs">provided by</text>
<text x="1701.5" y="116.7" font-size="30.8" font-weight="bold" fill="#e01b22" textLength="28" lengthAdjust="spacingAndGlyphs">IG</text>
<defs><filter id="sh" x="-5%" y="-10%" width="110%" height="125%"><feGaussianBlur in="SourceAlpha" stdDeviation="1"/><feOffset dx="1.6" dy="1.8"/><feComponentTransfer><feFuncA type="linear" slope="0.42"/></feComponentTransfer><feMerge><feMergeNode/><feMergeNode in="SourceGraphic"/></feMerge></filter></defs>
<g id="wm" font-style="italic" font-weight="900" filter="url(#sh)">
<text x="1544 1605 1666.5 1728" y="1155.5" font-size="55.5" fill="#ffffff" stroke="#ffffff" stroke-width="1.2">海马财经</text>
<text x="1565 1591 1620.5 1644 1664.5 1698 1722.5 1743.5 1768" y="1194.8" font-size="29.5" fill="#82c4f0" stroke="#82c4f0" stroke-width="1">zzrt01.cn</text>
</g>
</svg></body></html>
